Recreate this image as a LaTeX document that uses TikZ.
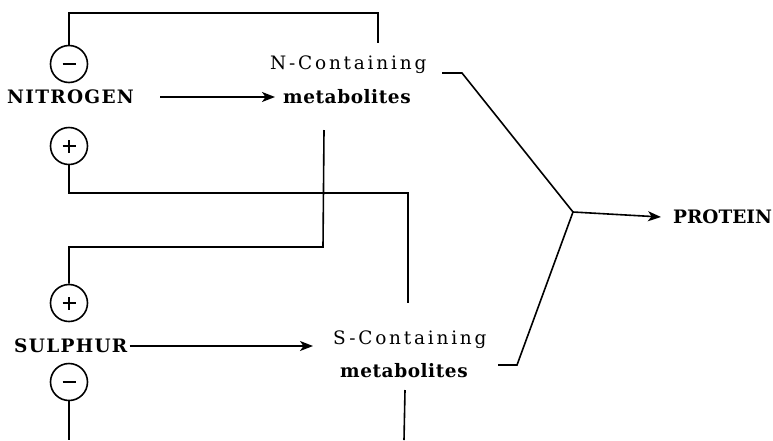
\documentclass[tikz,border=0pt]{standalone}
\usepackage{fontspec}
\setmainfont{DejaVu Serif}
\usetikzlibrary{arrows.meta}
\tikzset{
  conn/.style={line width=1.6pt, line join=miter},
  arr/.style={conn, -{Stealth[length=13pt,width=10pt,inset=3.5pt]}},
  sign/.style={circle, draw, line width=1.6pt, minimum size=37pt, inner sep=0pt},
  bar/.style={line width=2.6pt},
  capsL/.style={anchor=west, inner sep=0pt, font=\fontsize{18.5}{20}\selectfont\bfseries\addfontfeatures{LetterSpace=7}},
  protL/.style={anchor=west, inner sep=0pt, font=\fontsize{18.5}{20}\selectfont\bfseries},
  txtL/.style={anchor=west, inner sep=0pt, font=\fontsize{18.5}{20}\selectfont\addfontfeatures{LetterSpace=15}},
  metL/.style={anchor=west, inner sep=0pt, font=\fontsize{18.5}{20}\selectfont\bfseries\addfontfeatures{LetterSpace=3}},
}
\begin{document}
\begin{tikzpicture}[x=1pt,y=-1pt]
\useasboundingbox (0,0) rectangle (773,440);
% signs
\node[sign] (nminus) at (69,64) {};
\node[sign] (nplus) at (69,146) {};
\node[sign] (splus) at (69,303) {};
\node[sign] (sminus) at (69,382) {};
\draw[bar] ([xshift=-6.5pt]nminus.center) -- ([xshift=6.5pt]nminus.center);
\draw[bar] ([xshift=-6.5pt]sminus.center) -- ([xshift=6.5pt]sminus.center);
\draw[bar] ([xshift=-6.5pt]nplus.center) -- ([xshift=6.5pt]nplus.center);
\draw[bar] ([yshift=-6.5pt]nplus.center) -- ([yshift=6.5pt]nplus.center);
\draw[bar] ([xshift=-6.5pt]splus.center) -- ([xshift=6.5pt]splus.center);
\draw[bar] ([yshift=-6.5pt]splus.center) -- ([yshift=6.5pt]splus.center);
% texts
\node[capsL] (nitro) at (7,97) {NITROGEN};
\node[capsL] (sulph) at (14,346) {SULPHUR};
\node[txtL] (ncont) at (270,65) {N-Containing};
\node[metL] (nmet) at (283,97) {metabolites};
\node[txtL] (scont) at (333,340) {S-Containing};
\node[metL] (smet) at (340,371) {metabolites};
\node[protL] (prot) at (673,217) {PROTEIN};
% coordinates
\coordinate (c1) at (378,13);
\coordinate (c1e) at (378,43);
\coordinate (c2) at (408,193);
\coordinate (c2e) at (408,303);
\coordinate (c3s) at (324,130);
\coordinate (c3) at (323,247);
\coordinate (c4e) at (69,440);
\coordinate (c5s) at (405,390);
\coordinate (c5e) at (404,440);
\coordinate (sa) at (313,346);
\coordinate (nt1) at (442,73);
\coordinate (nt2) at (462,73);
\coordinate (st1) at (498,365);
\coordinate (st2) at (517,365);
\coordinate (junc) at (573,212);
% connectors
\draw[conn] (nminus.north) |- (c1) -- (c1e);
\draw[conn] (nplus.south) |- (c2) -- (c2e);
\draw[conn] (c3s) -- (c3) -| (splus.north);
\draw[conn] (sminus.south) -- (c4e);
\draw[conn] (c5s) -- (c5e);
\draw[arr] ([xshift=26pt]nitro.east) -- ([xshift=-8pt]nmet.west);
\draw[arr] ([xshift=2pt]sulph.east) -- (sa);
\draw[conn] (nt1) -- (nt2) -- (junc);
\draw[conn] (st1) -- (st2) -- (junc);
\draw[arr] (junc) -- ([xshift=-12pt]prot.west);
\end{tikzpicture}
\end{document}
